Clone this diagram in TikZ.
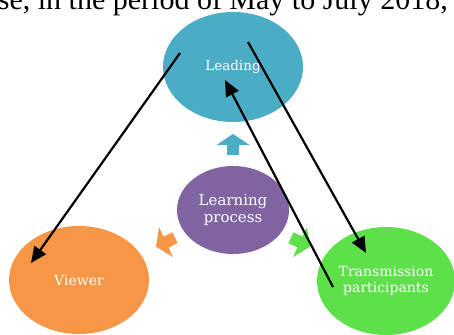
\documentclass[tikz,border=0pt]{standalone}
\usepackage{fontspec}
\setmainfont{DejaVu Serif}
\newfontfamily\timesfont{Liberation Serif}
\usetikzlibrary{shapes.geometric,arrows.meta,calc}
\definecolor{cblue}{HTML}{4BACC6}
\definecolor{cpurple}{HTML}{8064A2}
\definecolor{corange}{HTML}{F79646}
\definecolor{cgreen}{HTML}{5EE04B}
\tikzset{
  bubble/.style={ellipse,inner sep=0pt,text=white,align=center,font=\fontsize{14pt}{16pt}\selectfont},
  link/.style={draw=black,line width=2.2pt,-{Triangle[length=16pt,width=14pt]},shorten >=0pt},
}
\newcommand{\blockarrow}[4]{% center x,y ; angle ; color
  \fill[#4,shift={(#1,#2)},rotate=#3]
    (-10,-6) -- (0,-6) -- (0,-16.5) -- (11,0) -- (0,16.5) -- (0,6) -- (-10,6) -- cycle;
}
\begin{document}
\begin{tikzpicture}[x=1pt,y=-1pt]
\useasboundingbox (0,0) rectangle (454,334);
\clip (0,0) rectangle (454,334);
\node[anchor=base east,inner sep=0pt,font=\timesfont\fontsize{30pt}{30pt}\selectfont] (hdr) at (448,10) {se, in the period of May to July 2018,};
\node[bubble,fill=cblue,minimum width=140pt,minimum height=110pt,font=\fontsize{13.5pt}{16pt}\selectfont] (lead) at (233,67) {Leading};
\node[bubble,fill=cpurple,minimum width=112pt,minimum height=88pt,font=\fontsize{15pt}{17pt}\selectfont] (learn) at (233,210) {Learning\\process};
\node[bubble,fill=corange,minimum width=140pt,minimum height=108pt] (view) at (79,280) {Viewer};
\node[bubble,fill=cgreen,minimum width=138pt,minimum height=108pt] (trans) at (386,281) {Transmission\\participants};
\blockarrow{233}{145}{90}{cblue}
\blockarrow{166}{242}{-155}{corange}
\blockarrow{300}{242}{-25}{cgreen}
\coordinate (s1) at (180,53);
\coordinate (e1) at (31,263);
\coordinate (s2) at (248,42);
\coordinate (e2) at (366,253);
\coordinate (s3) at (333,287);
\coordinate (e3) at (225,80);
\draw[link] (s1) -- (e1);
\draw[link] (s2) -- (e2);
\draw[link] (s3) -- (e3);
\end{tikzpicture}
\end{document}
